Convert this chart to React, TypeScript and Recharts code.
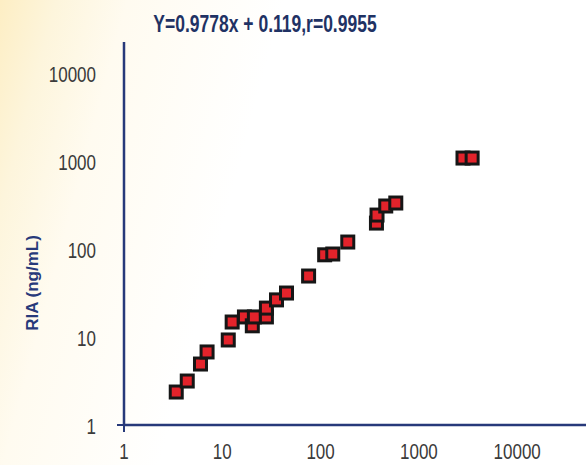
import React from 'react';
import { ScatterChart, Scatter, XAxis, YAxis } from 'recharts';

const xTicks = [1, 10, 100, 1000, 10000];
const yTicks = [1, 10, 100, 1000, 10000];

const methodValues = [3.4, 4.4, 6.0, 7.0, 11.5, 12.6, 16.8, 20.2, 21.2, 28.1, 28.1, 35.6, 45, 75.5, 110, 133, 189, 370, 375, 460, 582, 2810, 3480];
const riaValues = [2.37, 3.16, 4.93, 6.76, 9.25, 14.8, 16.9, 13.4, 16.9, 16.9, 21.3, 26.4, 31.6, 49.3, 85.9, 87.7, 120, 197, 243, 308, 333, 1080, 1080];

const points = methodValues.map((x, i) => ({ x, y: riaValues[i] }));

const NAVY = '#27397a';
const FONT = '"Liberation Sans", Arial, sans-serif';
const STRETCH = 1.32;

const XTick = (props: any) => {
  const { x, y, payload } = props;
  return (
    <g>
      {payload.value === 1 && (
        <line x1={x} x2={x} y1={y} y2={y + 7} stroke={NAVY} strokeWidth={2} />
      )}
      <g transform={`translate(${x},${y + 26}) scale(1,${STRETCH})`}>
        <text x={0} y={0} textAnchor="middle" dominantBaseline="central" fontSize={17} fill="#3b3b3b" fontFamily={FONT}>
          {payload.value}
        </text>
      </g>
    </g>
  );
};

const YTick = (props: any) => {
  const { x, y, payload } = props;
  return (
    <g>
      {payload.value === 1 && (
        <line x1={x - 7} x2={x} y1={y} y2={y} stroke={NAVY} strokeWidth={2} />
      )}
      <g transform={`translate(${x - 28},${y + 1}) scale(1,${STRETCH})`}>
        <text x={0} y={0} textAnchor="end" dominantBaseline="central" fontSize={17} fill="#3b3b3b" fontFamily={FONT}>
          {payload.value}
        </text>
      </g>
    </g>
  );
};

const SquareMarker = (props: any) => {
  const { cx, cy } = props;
  return <rect x={cx - 6} y={cy - 6} width={12} height={12} fill="#e3232b" stroke="#161616" strokeWidth={3} />;
};

export default function App() {
  return (
    <div
      style={{
        position: 'absolute',
        left: 0,
        top: 0,
        width: 586,
        height: 465,
        overflow: 'hidden',
        background: 'linear-gradient(105deg, #fdeec4 0%, #fdf5dc 8%, #fffbf0 18%, #ffffff 40%, #ffffff 100%)',
        fontFamily: FONT,
      }}
    >
      <div
        style={{
          position: 'absolute',
          left: 0,
          top: 14,
          width: 530,
          lineHeight: '20px',
          textAlign: 'center',
          fontSize: 17.5,
          fontWeight: 'bold',
          color: '#1f3264',
          whiteSpace: 'nowrap',
          transform: `scaleY(${STRETCH})`,
        }}
      >
        Y=0.9778x + 0.119,r=0.9955
      </div>
      <div
        style={{
          position: 'absolute',
          left: 33,
          top: 283,
          transform: 'translate(-50%, -50%) rotate(-90deg)',
          fontSize: 17,
          fontWeight: 'bold',
          color: NAVY,
          whiteSpace: 'nowrap',
        }}
      >
        RIA (ng/mL)
      </div>
      <ScatterChart width={586} height={465} margin={{ top: 42, right: 0, bottom: 0, left: 0 }}>
        <XAxis
          type="number"
          dataKey="x"
          scale="log"
          domain={[1, 50119]}
          ticks={xTicks}
          allowDataOverflow
          height={40}
          tickSize={0}
          tickMargin={0}
          tickLine={false}
          axisLine={{ stroke: NAVY, strokeWidth: 2.5 }}
          tick={<XTick />}
          interval={0}
        />
        <YAxis
          type="number"
          dataKey="y"
          scale="log"
          domain={[1, 22500]}
          ticks={yTicks}
          allowDataOverflow
          width={124}
          tickSize={0}
          tickMargin={0}
          tickLine={false}
          axisLine={{ stroke: NAVY, strokeWidth: 2.5 }}
          tick={<YTick />}
          interval={0}
        />
        <Scatter data={points} shape={<SquareMarker />} isAnimationActive={false} />
      </ScatterChart>
    </div>
  );
}
